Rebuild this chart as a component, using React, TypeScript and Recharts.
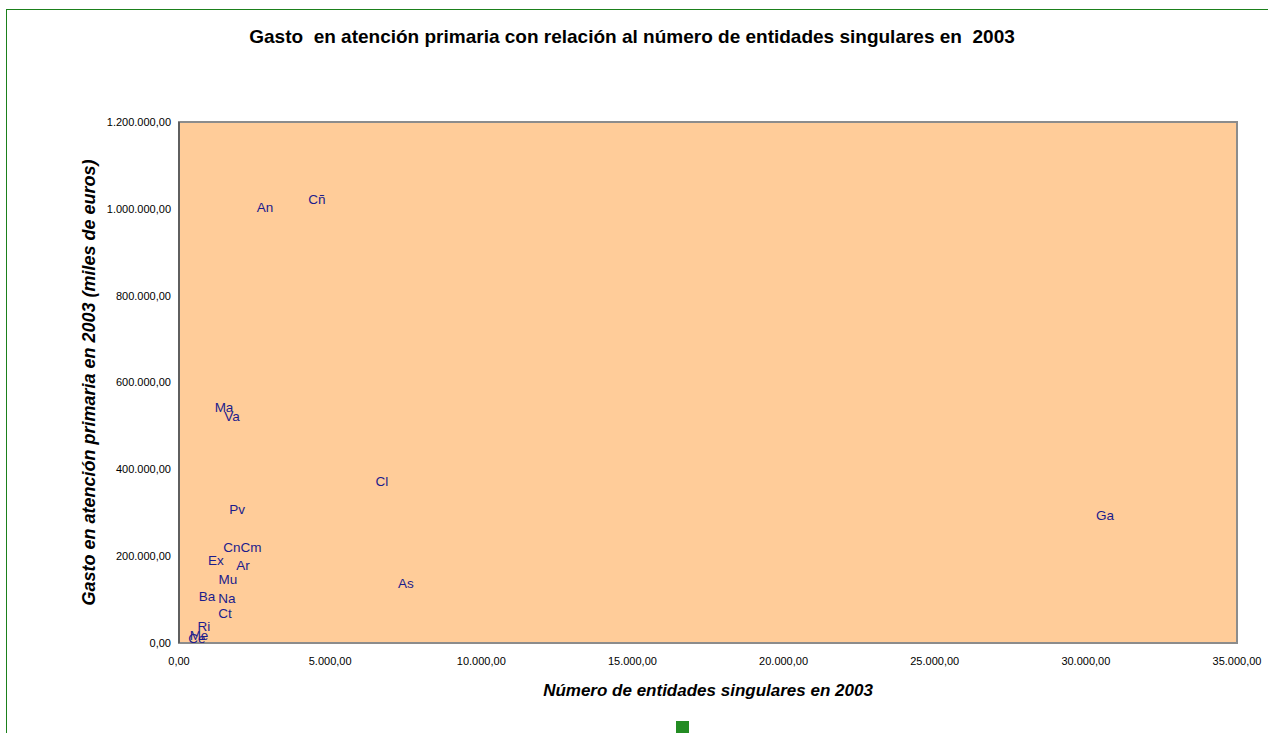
import React from "react"
import { ScatterChart, Scatter, XAxis, YAxis, ReferenceArea } from "recharts"

const regiones = ["An", "Ar", "As", "Ba", "Cn", "Ct", "Cl", "Cm", "Cñ", "Va", "Ex", "Ga", "Ma", "Mu", "Na", "Pv", "Ri", "Ce", "Me"]
const entidades = [2845, 2117, 7509, 926, 1753, 1522, 6715, 2382, 4565, 1753, 1224, 30632, 1489, 1621, 1588, 1919, 827, 595, 662]
const gasto = [1004000, 179600, 135900, 108000, 221000, 66800, 373000, 221000, 1022600, 522800, 191000, 294800, 543500, 147000, 103600, 308600, 39100, 10400, 18400]

const xTicks = [0, 5000, 10000, 15000, 20000, 25000, 30000, 35000]
const yTicks = [0, 200000, 400000, 600000, 800000, 1000000, 1200000]

const FONT = '"Liberation Sans", Arial, sans-serif'

function fmt(v: number) {
  const s = Math.round(v).toString().replace(/\B(?=(\d{3})+(?!\d))/g, ".")
  return `${s},00`
}

const data = regiones.map((r, i) => ({ region: r, x: entidades[i], y: gasto[i] }))

// labels are drawn in place of the markers, centred on each point
const LabelShape = (props: any) => (
  <text x={props.cx} y={props.cy} textAnchor="middle" dominantBaseline="central"
    fontFamily={FONT} fontSize={13.5} fill="#1c1c8c">
    {props.payload.region}
  </text>
)

const YTitle = (props: any) => {
  const vb = props.viewBox
  const cx = vb.x + 89
  const cy = vb.y + vb.height / 2
  return (
    <text x={cx} y={cy} transform={`rotate(-90, ${cx}, ${cy})`} textAnchor="middle" dominantBaseline="central"
      fontFamily={FONT} fontSize={18} fontWeight="bold" fontStyle="italic" fill="#000">
      Gasto en atención primaria en 2003 (miles de euros)
    </text>
  )
}

const XTitle = (props: any) => {
  const vb = props.viewBox
  return (
    <text x={vb.x + vb.width / 2} y={vb.y + 47} textAnchor="middle" dominantBaseline="central"
      fontFamily={FONT} fontSize={17} fontWeight="bold" fontStyle="italic" fill="#000">
      Número de entidades singulares en 2003
    </text>
  )
}

export default function App() {
  return (
    <div style={{ position: "fixed", left: 0, top: 0, width: 1268, height: 733, overflow: "hidden", background: "#fff" }}>
      <div style={{ position: "absolute", left: 6, top: 9, width: 1400, height: 900, border: "1px solid #1b801b", boxSizing: "border-box" }} />
      <div style={{ position: "absolute", left: 0, top: 26, width: 1264, textAlign: "center", fontFamily: FONT, fontSize: 19, fontWeight: "bold", whiteSpace: "pre", lineHeight: "22px" }}>
        {"Gasto  en atención primaria con relación al número de entidades singulares en  2003"}
      </div>
      <div style={{ position: "absolute", left: 0, top: 0 }}>
        <ScatterChart width={1268} height={733} margin={{ top: 122, right: 31, bottom: 0, left: 0 }}>
          <ReferenceArea x1={0} x2={35000} y1={0} y2={1200000} fill="#FFCC99" fillOpacity={1} stroke="#8c8c8c" strokeWidth={2} />
          <XAxis type="number" dataKey="x" domain={[0, 35000]} ticks={xTicks} tickFormatter={fmt} height={90}
            tickLine={false} tickMargin={8} axisLine={{ stroke: "#8c8c8c", strokeWidth: 2 }}
            tick={{ fill: "#000", fontSize: 11, fontFamily: FONT }} interval={0} label={<XTitle />} />
          <YAxis type="number" dataKey="y" domain={[0, 1200000]} ticks={yTicks} tickFormatter={fmt} width={179}
            tickLine={false} axisLine={{ stroke: "#333", strokeWidth: 1 }}
            tick={{ fill: "#000", fontSize: 11, fontFamily: FONT }} interval={0} label={<YTitle />} />
          <Scatter name=" " data={data} fill="#238c23" shape={<LabelShape />} isAnimationActive={false} />
        </ScatterChart>
      </div>
      {/* legend: the series key, a single green square */}
      <div style={{ position: "absolute", left: 676, top: 721, width: 13, height: 13, background: "#238c23" }} />
    </div>
  )
}
